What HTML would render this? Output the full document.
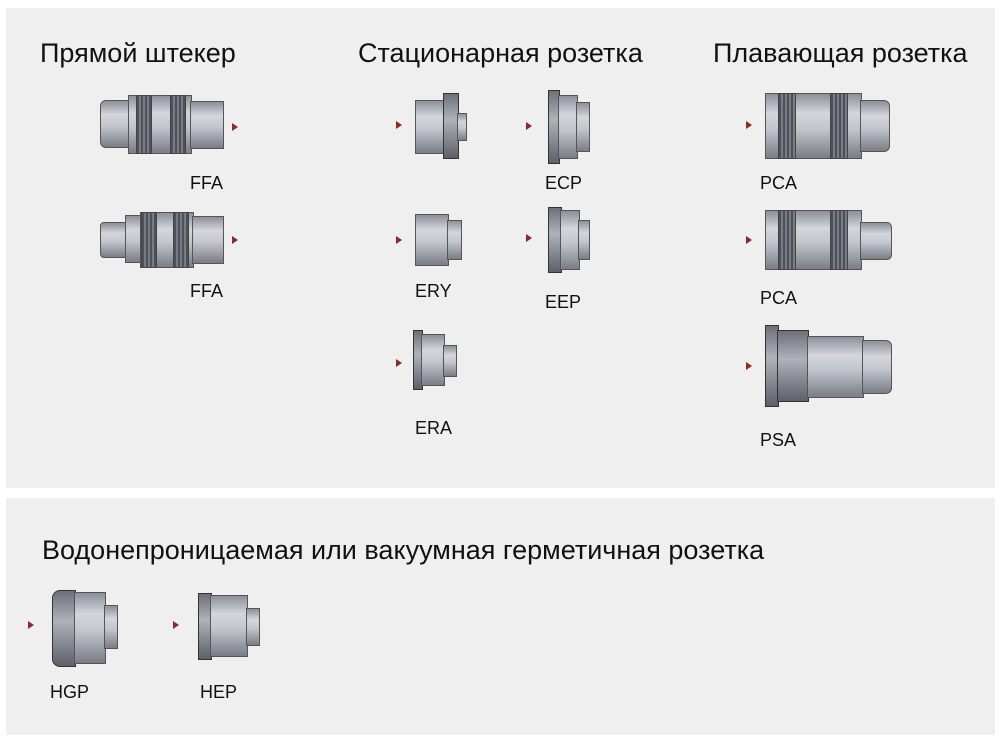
<!DOCTYPE html>
<html><head><meta charset="utf-8"><style>
body{margin:0;width:1000px;height:739px;background:#fff;position:relative;overflow:hidden;font-family:"Liberation Sans",sans-serif;color:#111}
.panel{position:absolute;background:#efefef}
.h{position:absolute;font-size:27px;white-space:nowrap}
.l{position:absolute;font-size:18px}
.a{position:absolute;width:0;height:0;border-top:4px solid transparent;border-bottom:4px solid transparent;border-left:6px solid #8a2a2a}
.b{position:absolute;background:linear-gradient(#8d8f99,#d4d6dc 30%,#c3c5cc 55%,#7a7c86);border:1px solid #555}
.k{position:absolute;background:repeating-linear-gradient(90deg,#4f515a 0 2px,#7a7c85 2px 4px);border:1px solid #444}
.d{position:absolute;background:linear-gradient(#6e7079,#b0b2ba 40%,#5e6069);border:1px solid #333}
</style></head><body>
<div class="panel" style="left:6px;top:8px;width:989px;height:480px"></div>
<div class="panel" style="left:6px;top:498px;width:989px;height:237px"></div>

<div class="h" style="left:40px;top:38px">Прямой штекер</div>
<div class="h" style="left:358px;top:38px">Стационарная розетка</div>
<div class="h" style="left:713px;top:38px">Плавающая розетка</div>
<div class="h" style="left:42px;top:535px">Водонепроницаемая или вакуумная герметичная розетка</div>

<!-- FFA 1 -->
<div class="b" style="left:100px;top:100px;width:28px;height:46px;border-radius:6px 0 0 6px"></div>
<div class="b" style="left:128px;top:95px;width:62px;height:57px"></div>
<div class="k" style="left:136px;top:95px;width:14px;height:57px"></div>
<div class="k" style="left:170px;top:95px;width:14px;height:57px"></div>
<div class="b" style="left:190px;top:101px;width:32px;height:46px"></div>
<div class="a" style="left:232px;top:123px"></div>
<div class="l" style="left:190px;top:173px">FFA</div>
<!-- FFA 2 -->
<div class="b" style="left:100px;top:222px;width:25px;height:34px;border-radius:4px 0 0 4px"></div>
<div class="b" style="left:125px;top:215px;width:15px;height:46px"></div>
<div class="b" style="left:140px;top:212px;width:52px;height:54px"></div>
<div class="k" style="left:141px;top:212px;width:14px;height:54px"></div>
<div class="k" style="left:173px;top:212px;width:14px;height:54px"></div>
<div class="b" style="left:192px;top:216px;width:30px;height:46px"></div>
<div class="a" style="left:232px;top:236px"></div>
<div class="l" style="left:190px;top:281px">FFA</div>

<!-- stationary 1 -->
<div class="a" style="left:396px;top:121px"></div>
<div class="b" style="left:415px;top:100px;width:28px;height:52px"></div>
<div class="d" style="left:443px;top:93px;width:14px;height:64px"></div>
<div class="b" style="left:457px;top:113px;width:8px;height:26px"></div>
<!-- ECP -->
<div class="a" style="left:526px;top:122px"></div>
<div class="d" style="left:548px;top:90px;width:10px;height:72px"></div>
<div class="b" style="left:558px;top:95px;width:18px;height:62px"></div>
<div class="b" style="left:576px;top:102px;width:12px;height:48px"></div>
<div class="l" style="left:545px;top:173px">ECP</div>
<!-- ERY -->
<div class="a" style="left:396px;top:236px"></div>
<div class="b" style="left:415px;top:214px;width:32px;height:50px"></div>
<div class="b" style="left:447px;top:220px;width:13px;height:38px"></div>
<div class="l" style="left:415px;top:281px">ERY</div>
<!-- EEP -->
<div class="a" style="left:526px;top:234px"></div>
<div class="d" style="left:548px;top:207px;width:12px;height:64px"></div>
<div class="b" style="left:560px;top:210px;width:18px;height:58px"></div>
<div class="b" style="left:578px;top:220px;width:10px;height:38px"></div>
<div class="l" style="left:545px;top:292px">EEP</div>
<!-- ERA -->
<div class="a" style="left:396px;top:359px"></div>
<div class="d" style="left:413px;top:330px;width:8px;height:58px"></div>
<div class="b" style="left:421px;top:334px;width:22px;height:50px"></div>
<div class="b" style="left:443px;top:345px;width:12px;height:30px"></div>
<div class="l" style="left:415px;top:418px">ERA</div>

<!-- PCA 1 -->
<div class="a" style="left:746px;top:121px"></div>
<div class="b" style="left:765px;top:93px;width:95px;height:64px"></div>
<div class="k" style="left:778px;top:93px;width:16px;height:64px"></div>
<div class="k" style="left:830px;top:93px;width:16px;height:64px"></div>
<div class="b" style="left:860px;top:100px;width:28px;height:50px;border-radius:0 6px 6px 0"></div>
<div class="l" style="left:760px;top:173px">PCA</div>
<!-- PCA 2 -->
<div class="a" style="left:746px;top:236px"></div>
<div class="b" style="left:765px;top:210px;width:95px;height:58px"></div>
<div class="k" style="left:778px;top:210px;width:16px;height:58px"></div>
<div class="k" style="left:830px;top:210px;width:16px;height:58px"></div>
<div class="b" style="left:860px;top:222px;width:30px;height:36px;border-radius:0 5px 5px 0"></div>
<div class="l" style="left:760px;top:288px">PCA</div>
<!-- PSA -->
<div class="a" style="left:746px;top:362px"></div>
<div class="d" style="left:765px;top:325px;width:12px;height:80px"></div>
<div class="d" style="left:777px;top:330px;width:30px;height:70px"></div>
<div class="b" style="left:807px;top:336px;width:55px;height:60px"></div>
<div class="b" style="left:862px;top:340px;width:28px;height:52px;border-radius:0 6px 6px 0"></div>
<div class="l" style="left:760px;top:430px">PSA</div>

<!-- HGP -->
<div class="a" style="left:28px;top:621px"></div>
<div class="d" style="left:52px;top:590px;width:22px;height:75px;border-radius:8px 0 0 8px"></div>
<div class="b" style="left:74px;top:592px;width:30px;height:70px"></div>
<div class="b" style="left:104px;top:605px;width:12px;height:42px"></div>
<div class="l" style="left:50px;top:682px">HGP</div>
<!-- HEP -->
<div class="a" style="left:173px;top:621px"></div>
<div class="d" style="left:198px;top:593px;width:12px;height:65px"></div>
<div class="b" style="left:210px;top:595px;width:36px;height:60px"></div>
<div class="b" style="left:246px;top:608px;width:12px;height:36px"></div>
<div class="l" style="left:200px;top:682px">HEP</div>
</body></html>
